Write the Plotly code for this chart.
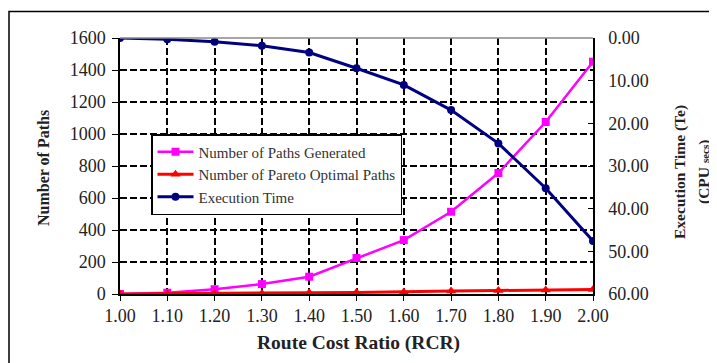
import plotly.graph_objects as go

rcr = [1.00, 1.10, 1.20, 1.30, 1.40, 1.50, 1.60, 1.70, 1.80, 1.90, 2.00]
paths_generated = [0, 8, 30, 62, 108, 225, 337, 514, 756, 1075, 1452]
pareto_paths = [0, 1, 2, 3, 8, 10, 12, 18, 22, 25, 28]
exec_time = [0.0, 0.3, 0.9, 1.8, 3.4, 7.1, 11.0, 16.9, 24.7, 35.2, 47.6]

x_ticks = [1.0, 1.1, 1.2, 1.3, 1.4, 1.5, 1.6, 1.7, 1.8, 1.9, 2.0]
x_labels = ["%.2f" % v for v in x_ticks]
left_ticks = [0, 200, 400, 600, 800, 1000, 1200, 1400, 1600]
right_ticks = [0, 10, 20, 30, 40, 50, 60]
right_labels = ["%.2f" % v for v in right_ticks]

FONT = "Liberation Serif"
PW, PH = 473.0, 256.0  # plot area size in px


def px(page_x):
    return (page_x - 120) / PW


def py(page_y):
    return (294 - page_y) / PH


fig = go.Figure()
fig.add_trace(go.Scatter(x=rcr, y=paths_generated, name="Number of Paths Generated",
                         mode="lines+markers", line=dict(color="#ff00ff", width=2.5),
                         marker=dict(symbol="square", size=8, color="#ff00ff")))
fig.add_trace(go.Scatter(x=rcr, y=pareto_paths, name="Number of Pareto Optimal Paths",
                         mode="lines+markers", line=dict(color="#ff0000", width=3),
                         marker=dict(symbol="triangle-up", size=9, color="#ff0000")))
fig.add_trace(go.Scatter(x=rcr, y=exec_time, name="Execution Time", yaxis="y2",
                         mode="lines+markers", line=dict(color="#000080", width=3),
                         marker=dict(symbol="circle", size=8, color="#000080")))

fig.update_layout(
    width=709, height=355,
    margin=dict(l=112, r=124, t=30, b=69, autoexpand=False),
    paper_bgcolor="white", plot_bgcolor="white",
    font=dict(family=FONT, size=18, color="#222222"),
    showlegend=True,
    legend=dict(x=px(151), y=py(134), xanchor="left", yanchor="top",
                bgcolor="white", bordercolor="black", borderwidth=1.5,
                font=dict(family=FONT, size=15, color="#333333"),
                itemwidth=36, tracegroupgap=0),
    xaxis=dict(range=[1.0, 2.0], tickvals=x_ticks, ticktext=x_labels,
               showline=True, linecolor="black", linewidth=1.5,
               ticks="outside", ticklen=5, tickcolor="black",
               showgrid=True, gridcolor="black", griddash="7px,3px", gridwidth=1.5,
               zeroline=False, automargin=False,
               tickfont=dict(size=18)),
    yaxis=dict(range=[0, 1600], tickvals=left_ticks,
               showline=True, linecolor="black", linewidth=1.5,
               ticks="outside", ticklen=6, tickcolor="black",
               showgrid=True, gridcolor="black", griddash="7px,3px", gridwidth=1.5,
               zeroline=False, automargin=False, ticklabelstandoff=3,
               tickfont=dict(size=18)),
    yaxis2=dict(range=[60, 0], tickvals=right_ticks, ticktext=right_labels,
                overlaying="y", side="right",
                showline=True, linecolor="black", linewidth=1.5,
                ticks="inside", ticklen=5, tickcolor="black",
                showgrid=False, zeroline=False, automargin=False,
                ticklabelstandoff=10,
                tickfont=dict(size=18)),
    annotations=[
        dict(text="<b>Route Cost Ratio (RCR)</b>", xref="paper", yref="paper",
             x=px(358), y=py(343), showarrow=False, font=dict(size=19.5, color="#222222"),
             xanchor="center", yanchor="middle"),
        dict(text="<b>Number of Paths</b>", xref="paper", yref="paper",
             x=px(43), y=py(168), showarrow=False, textangle=-90,
             font=dict(size=16, color="#222222"), xanchor="center", yanchor="middle"),
        dict(text="<b>Execution Time (Te)</b>", xref="paper", yref="paper",
             x=px(680), y=py(172), showarrow=False, textangle=-90,
             font=dict(size=15.5, color="#222222"), xanchor="center", yanchor="middle"),
        dict(text="<b>(CPU <span style='font-size:11px'>secs</span>)</b>", xref="paper", yref="paper",
             x=px(704), y=py(172), showarrow=False, textangle=-90,
             font=dict(size=15.5, color="#222222"), xanchor="center", yanchor="middle"),
    ],
    shapes=[
        dict(type="line", xref="paper", yref="paper", x0=0, x1=1, y0=1, y1=1,
             line=dict(color="#888888", width=1.5)),
        dict(type="rect", xref="paper", yref="paper",
             x0=px(9), x1=px(712), y0=py(372), y1=py(11.5),
             line=dict(color="black", width=1.5)),
    ],
)

fig.write_html("out.html")
